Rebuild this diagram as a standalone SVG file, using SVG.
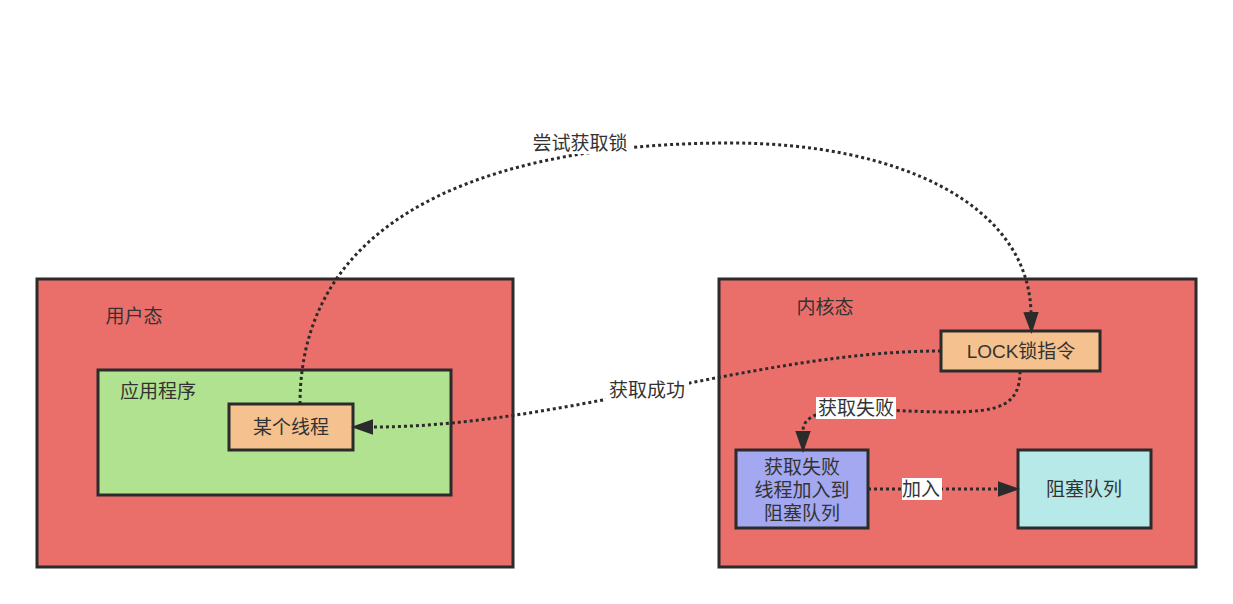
<svg xmlns="http://www.w3.org/2000/svg" width="1233" height="604" viewBox="0 0 1233 604">
<style>
.box{stroke:#2b2b2b;stroke-width:3}
.red{fill:#ea6f6b}
.green{fill:#b0e290}
.orange{fill:#f5c28f}
.blue{fill:#a3a8f0}
.cyan{fill:#b6e9e8}
text{font-family:"Liberation Sans","Noto Sans CJK SC",sans-serif;font-size:19px;fill:#333333;dominant-baseline:central;text-anchor:middle}
.edge{fill:none;stroke:#2b2b2b;stroke-width:3;stroke-dasharray:3 3}
.lbl{fill:#ffffff}
</style>
<defs>
<marker id="arr" markerUnits="userSpaceOnUse" markerWidth="22" markerHeight="16" refX="0" refY="7" orient="auto" viewBox="0 0 20 14">
<path d="M0,0 L20,7 L0,14 Z" fill="#2b2b2b"/>
</marker>
</defs>
<rect width="1233" height="604" fill="#ffffff"/>
<g id="user-mode">
<rect class="box red" x="37" y="279" width="476" height="288"/>
<text x="134" y="316">用户态</text>
</g>
<g id="app">
<rect class="box green" x="98" y="370" width="353" height="125"/>
<text x="158" y="391">应用程序</text>
</g>
<g id="thread">
<rect class="box orange" x="229" y="404" width="124" height="46"/>
<text x="291" y="427">某个线程</text>
</g>
<g id="kernel-mode">
<rect class="box red" x="719" y="279" width="477" height="288"/>
<text x="825" y="307">内核态</text>
</g>
<g id="lock">
<rect class="box orange" x="941" y="331" width="159" height="40"/>
<text x="1021" y="351">LOCK锁指令</text>
</g>
<g id="fail-thread">
<rect class="box blue" x="736" y="450" width="132" height="78"/>
<text x="802" y="467">获取失败</text>
<text x="802" y="490">线程加入到</text>
<text x="802" y="513">阻塞队列</text>
</g>
<g id="queue">
<rect class="box cyan" x="1018" y="450" width="133" height="78"/>
<text x="1084" y="489">阻塞队列</text>
</g>
<g id="connectors">
<path class="edge" d="M300,404 C300,200 520,143 730,143 C900,143 1028,205 1031,312" marker-end="url(#arr)"/>
<path class="edge" d="M941,351 C760,351 560,427 373,427" marker-end="url(#arr)"/>
<path class="edge" d="M1020,371 C1020,405 1000,412 950,412 C880,412 803,400 803,431" marker-end="url(#arr)"/>
<path class="edge" d="M868,489 L998,489" marker-end="url(#arr)"/>
<rect class="lbl" x="528" y="132" width="104" height="22"/>
<text x="580" y="143">尝试获取锁</text>
<rect class="lbl" x="606" y="379" width="83" height="22"/>
<text x="647" y="390">获取成功</text>
<rect class="lbl" x="816" y="397" width="80" height="22"/>
<text x="856" y="408">获取失败</text>
<rect class="lbl" x="902" y="478" width="40" height="22"/>
<text x="921" y="489">加入</text>
</g>
</svg>
